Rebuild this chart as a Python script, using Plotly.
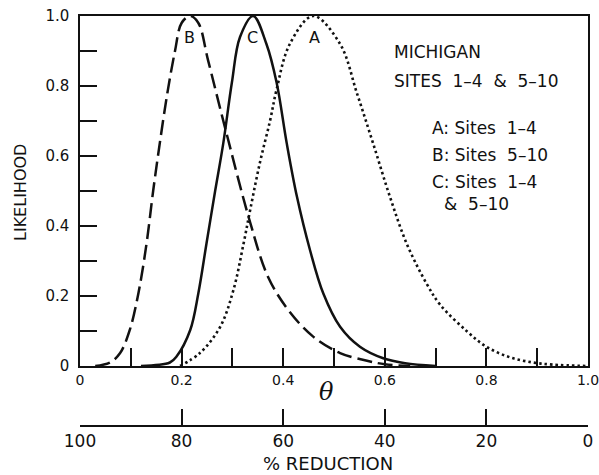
import plotly.graph_objects as go

# ---- data ----
theta_a = [0.197, 0.236, 0.276, 0.302, 0.322, 0.335, 0.354, 0.374, 0.387, 0.413, 0.459,
           0.512, 0.545, 0.577, 0.610, 0.643, 0.682, 0.709, 0.761, 0.800, 0.846, 0.892, 0.930, 1.0]
like_a = [0.0, 0.037, 0.112, 0.217, 0.35, 0.446, 0.58, 0.70, 0.79, 0.92, 1.0,
          0.92, 0.78, 0.636, 0.484, 0.35, 0.236, 0.175, 0.10, 0.055, 0.025, 0.01, 0.004, 0.0]

theta_b = [0.03, 0.059, 0.079, 0.098, 0.115, 0.131, 0.144, 0.157, 0.172, 0.187, 0.200, 0.217,
           0.233, 0.252, 0.285, 0.335, 0.370, 0.410, 0.459, 0.512, 0.565, 0.600, 0.650]
like_b = [0.0, 0.01, 0.037, 0.103, 0.208, 0.35, 0.50, 0.636, 0.78, 0.90, 0.98, 1.0,
          0.98, 0.874, 0.684, 0.41, 0.255, 0.16, 0.084, 0.037, 0.015, 0.005, 0.0]

theta_c = [0.12, 0.177, 0.190, 0.217, 0.233, 0.249, 0.266, 0.282, 0.299, 0.315, 0.341,
           0.367, 0.387, 0.407, 0.427, 0.453, 0.479, 0.512, 0.551, 0.597, 0.640, 0.700]
like_c = [0.0, 0.01, 0.027, 0.103, 0.208, 0.35, 0.50, 0.636, 0.81, 0.94, 1.0,
          0.92, 0.81, 0.636, 0.484, 0.33, 0.207, 0.112, 0.055, 0.022, 0.008, 0.0]

theta_ticks = [0.0, 0.1, 0.2, 0.3, 0.4, 0.5, 0.6, 0.7, 0.8, 0.9, 1.0]
theta_labels = ["0", "", "0.2", "", "0.4", "", "0.6", "", "0.8", "", "1.0"]
like_ticks = [0.0, 0.1, 0.2, 0.3, 0.4, 0.5, 0.6, 0.7, 0.8, 0.9, 1.0]
like_labels = ["0", "", "0.2", "", "0.4", "", "0.6", "", "0.8", "", "1.0"]
reduction_ticks = [100, 80, 60, 40, 20, 0]
reduction_labels = ["100", "80", "60", "40", "20", "0"]

curve_labels = ["A", "B", "C"]
curve_label_theta = [0.462, 0.216, 0.340]
legend_lines = ["A:\u00a0Sites\u00a0\u00a01\u20134", "B:\u00a0Sites\u00a0\u00a05\u201310",
                "C:\u00a0Sites\u00a0\u00a01\u20134", "&\u00a0\u00a05\u201310"]
header_lines = ["MICHIGAN", "SITES\u00a0\u00a01\u20134\u00a0\u00a0&\u00a0\u00a05\u201310"]

FONT = "DejaVu Sans"
INK = "#111111"

# page pixel geometry
X0, X1 = 80, 588      # plot left/right
Y_TOP, Y_PAPER_BOT = 16, 426
H_PAPER = Y_PAPER_BOT - Y_TOP
Y_AXIS0 = 366


def px(x):
    return (x - X0) / (X1 - X0)


def py(y):
    return (Y_PAPER_BOT - y) / H_PAPER


fig = go.Figure()
fig.add_trace(go.Scatter(x=theta_a, y=like_a, mode="lines", line_shape="spline",
                         line=dict(color=INK, width=2.6, dash="2.5px,3px"),
                         showlegend=False, hoverinfo="skip"))
fig.add_trace(go.Scatter(x=theta_b, y=like_b, mode="lines", line_shape="spline",
                         line=dict(color=INK, width=2.5, dash="15px,6px"),
                         showlegend=False, hoverinfo="skip"))
fig.add_trace(go.Scatter(x=theta_c, y=like_c, mode="lines", line_shape="spline",
                         line=dict(color=INK, width=2.5),
                         showlegend=False, hoverinfo="skip"))
# carrier for the % reduction axis
fig.add_trace(go.Scatter(x=[reduction_ticks[0], reduction_ticks[-1]], y=[0, 0],
                         xaxis="x2", yaxis="y", mode="lines",
                         line=dict(width=0, color="rgba(0,0,0,0)"),
                         showlegend=False, hoverinfo="skip"))

ydom0 = (Y_PAPER_BOT - Y_AXIS0) / H_PAPER

fig.update_layout(
    width=599, height=475,
    margin=dict(l=X0, r=599 - X1, t=Y_TOP, b=475 - Y_PAPER_BOT, autoexpand=False),
    paper_bgcolor="white", plot_bgcolor="white",
    font=dict(family=FONT, color=INK),
    xaxis=dict(range=[0, 1], tickvals=theta_ticks, ticktext=theta_labels,
               ticks="inside", ticklen=18, tickwidth=1.5, tickcolor=INK,
               showline=True, linewidth=1.5, linecolor=INK, mirror=True,
               showgrid=False, zeroline=False, tickfont=dict(size=14, family=FONT),
               ticklabelstandoff=0, automargin=False, ticklabeloverflow="allow"),
    yaxis=dict(range=[0, 1], domain=[ydom0, 1], tickvals=like_ticks, ticktext=like_labels,
               ticks="inside", ticklen=17, tickwidth=1.5, tickcolor=INK,
               showline=True, linewidth=1.5, linecolor=INK, mirror=True,
               showgrid=False, zeroline=False, tickfont=dict(size=15, family=FONT),
               ticklabelstandoff=6, automargin=False, ticklabeloverflow="allow"),
    xaxis2=dict(range=[100, 0], overlaying="x", anchor="free", position=0, side="bottom",
                tickvals=reduction_ticks, ticktext=reduction_labels,
                ticks="inside", ticklen=16, tickwidth=1.5, tickcolor=INK,
                showline=True, linewidth=1.5, linecolor=INK,
                showgrid=False, zeroline=False, tickfont=dict(size=17, family=FONT),
                ticklabelstandoff=0, automargin=False, ticklabeloverflow="allow"),
)

ann = []
ann.append(dict(text="LIKELIHOOD", xref="paper", yref="paper", x=px(20), y=py(193),
                xanchor="center", yanchor="middle",
                textangle=-90, showarrow=False, font=dict(size=16, family=FONT)))
ann.append(dict(text="<i>\u03b8</i>", xref="paper", yref="paper", x=px(326), y=py(392),
                xanchor="center", yanchor="middle",
                showarrow=False, font=dict(size=24, family="DejaVu Serif")))
ann.append(dict(text="% REDUCTION", xref="paper", yref="paper", x=px(328), y=py(463),
                xanchor="center", yanchor="middle",
                showarrow=False, font=dict(size=18, family=FONT)))
for lab, th in zip(curve_labels, curve_label_theta):
    ann.append(dict(text=lab, xref="x", yref="paper", x=th, y=py(37),
                    xanchor="center", yanchor="middle",
                    showarrow=False, font=dict(size=16, family=FONT)))
for t, hy in zip(header_lines, [52, 81]):
    ann.append(dict(text=t, xref="paper", yref="paper", x=px(392), y=py(hy),
                    xanchor="left", yanchor="middle", showarrow=False,
                    font=dict(size=17, family=FONT)))
leg_x = [430, 430, 430, 442]
leg_y = [128, 155, 182, 204]
for t, lx, ly in zip(legend_lines, leg_x, leg_y):
    ann.append(dict(text=t, xref="paper", yref="paper", x=px(lx), y=py(ly),
                    xanchor="left", yanchor="middle", showarrow=False,
                    font=dict(size=17, family=FONT)))
fig.update_layout(annotations=ann)

fig.write_html("out.html", config={"displayModeBar": False},
               post_script="document.body.style.margin='0';document.body.style.overflow='hidden';")
